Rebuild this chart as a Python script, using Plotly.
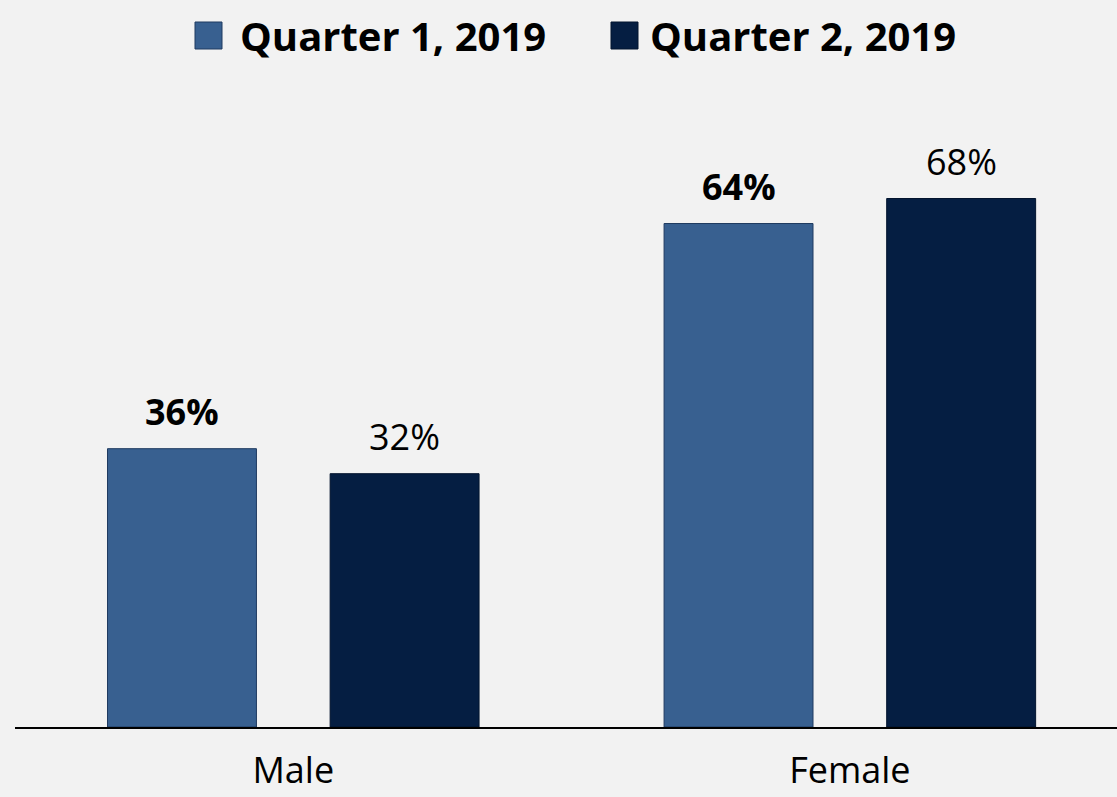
import plotly.graph_objects as go

categories = ["Male", "Female"]
q1_values = [35.6, 64.4]
q2_values = [32.4, 67.6]
series_names = ["Quarter 1, 2019", "Quarter 2, 2019"]

W, H = 1117, 797
ML, MR, MT, MB = 15, 0, 100, 70
PW, PH = W - ML - MR, H - MT - MB
BARGAP = 0.2

C1 = "#386090"
C2 = "#051e42"
BG = "#f2f2f2"
FONT = "Open Sans, Liberation Sans, sans-serif"

def px_x(p):
    return (p - ML) / PW

def px_y(p):
    return (H - MB - p) / PH

fig = go.Figure()
fig.add_trace(go.Bar(
    x=categories, y=q1_values, name=series_names[0],
    marker=dict(color=C1, line=dict(color="#1f3a60", width=1)),
    showlegend=False,
))
fig.add_trace(go.Bar(
    x=categories, y=q2_values, name=series_names[1],
    marker=dict(color=C2, line=dict(color="#03142e", width=1)),
    showlegend=False,
))

# data labels (Q1 bold, Q2 regular), placed above each bar
off = (1 - BARGAP) / 4
for series, sign, bold in [(q1_values, -1, True), (q2_values, 1, False)]:
    for j, v in enumerate(series):
        t = "%d%%" % round(v)
        if bold:
            t = "<b>%s</b>" % t
        fig.add_annotation(x=j + sign * off, y=v, xref="x", yref="y",
                           text=t, showarrow=False, xanchor="center", yanchor="bottom",
                           yshift=11, font=dict(size=36, color="black", family=FONT))

# manual legend (large squares like the reference)
legend_items = [(series_names[0], C1, "#1f3a60", 195, 238), (series_names[1], C2, "#03142e", 611, 648)]
for name, col, lc, sx, tx in legend_items:
    fig.add_shape(type="rect", xref="paper", yref="paper",
                  x0=px_x(sx), x1=px_x(sx + 27), y0=px_y(49), y1=px_y(22),
                  fillcolor=col, line=dict(color=lc, width=1))
    fig.add_annotation(xref="paper", yref="paper", x=px_x(tx), y=px_y(36),
                       xanchor="left", yanchor="middle", showarrow=False,
                       text="<b>%s</b>" % name,
                       font=dict(size=40, color="black", family=FONT))

fig.update_layout(
    width=W, height=H,
    margin=dict(l=ML, r=MR, t=MT, b=MB, autoexpand=False),
    paper_bgcolor=BG, plot_bgcolor=BG,
    barmode="group", bargap=BARGAP, bargroupgap=0.331,
    font=dict(family=FONT, color="black"),
    xaxis=dict(range=[-0.5, 1.48], showline=True, linecolor="black", linewidth=2,
               ticks="", tickfont=dict(size=36, color="black", family=FONT),
               ticklabelstandoff=11, automargin=False,
               showgrid=False, zeroline=False),
    yaxis=dict(range=[0, 80.2], visible=False, showgrid=False, zeroline=False,
               automargin=False),
)

fig.write_html("out.html", config={"displayModeBar": False},
               post_script="document.body.style.margin='0';")
